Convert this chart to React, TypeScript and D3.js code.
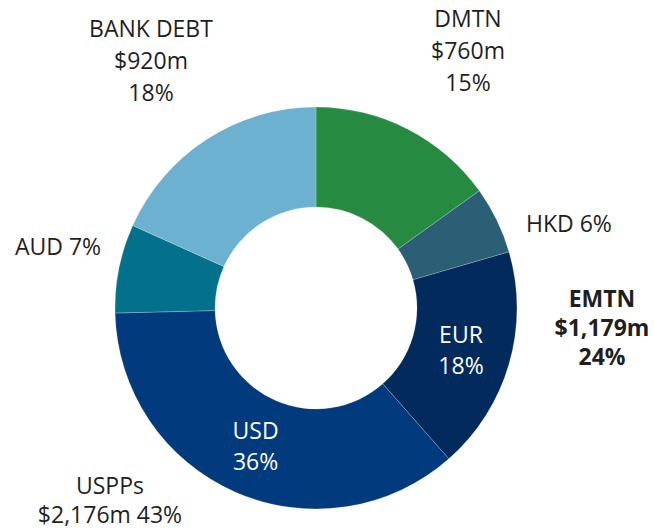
import React from 'react';
import * as d3 from 'd3';

// slices clockwise from 12 o'clock, $m
const segments = ['DMTN', 'HKD', 'EUR', 'USD', 'AUD', 'BANK DEBT'];
const amounts = [760, 272, 907, 1817, 359, 920];
const sliceColors = ['#268b41', '#2b5f75', '#032a5c', '#013a7d', '#03718c', '#6cb1cf'];

// labels drawn inside the ring
const innerLabels = [
  { seg: 'EUR', lines: ['EUR', '18%'] },
  { seg: 'USD', lines: ['USD', '36%'] },
];

// outside labels
const outerLines = [
  ['BANK DEBT', '$920m', '18%'],
  ['DMTN', '$760m', '15%'],
  ['HKD 6%'],
  ['EMTN', '$1,179m', '24%'],
  ['AUD 7%'],
  ['USPPs', '$2,176m 43%'],
];
const outerBold = [false, false, false, true, false, false];

const width = 654;
const height = 531;
const cx = 316;
const cy = 308;
const outerR = 201;
const innerR = 101;
const font = '"Open Sans", "Noto Sans", sans-serif';

// where each outside block sits: [x, first baseline, line step, anchor]
const outerPos: [number, number, number, string][] = [
  [151, 37, 32, 'middle'],
  [468, 27, 32, 'middle'],
  [526, 232, 0, 'start'],
  [602, 307, 29, 'middle'],
  [15, 255, 0, 'start'],
  [110, 494, 29, 'middle'],
];

export default function App() {
  const pie = d3.pie<number>().sort(null).value(d => d);
  const arcs = pie(amounts);
  const arc = d3.arc<d3.PieArcDatum<number>>().innerRadius(innerR).outerRadius(outerR);

  return (
    <div style={{ position: 'absolute', left: 0, top: 0 }}>
      <svg width={width} height={height} style={{ display: 'block', background: '#fff' }}>
        <g transform={`translate(${cx},${cy})`}>
          {arcs.map((a, i) => (
            <path key={segments[i]} d={arc(a) || ''} fill={sliceColors[i]}
              stroke="#ffffff" strokeOpacity={0.35} strokeWidth={0.6} />
          ))}
          {innerLabels.map(l => {
            const i = segments.indexOf(l.seg);
            const [x, y] = arc.centroid(arcs[i]);
            return (
              <text key={l.seg} x={x} y={y - 7} textAnchor="middle" fill="#ffffff"
                fontFamily={font} fontSize={23}>
                {l.lines.map((t, j) => (
                  <tspan key={j} x={x} dy={j === 0 ? 0 : 31}>{t}</tspan>
                ))}
              </text>
            );
          })}
        </g>
        {outerLines.map((lines, i) => {
          const [x, y, step, anchor] = outerPos[i];
          return (
            <text key={i} x={x} y={y} textAnchor={anchor as any} fill="#1f1f1f"
              fontFamily={font} fontSize={23} fontWeight={outerBold[i] ? 700 : 400}>
              {lines.map((t, j) => (
                <tspan key={j} x={x} dy={j === 0 ? 0 : step}>{t}</tspan>
              ))}
            </text>
          );
        })}
      </svg>
    </div>
  );
}
